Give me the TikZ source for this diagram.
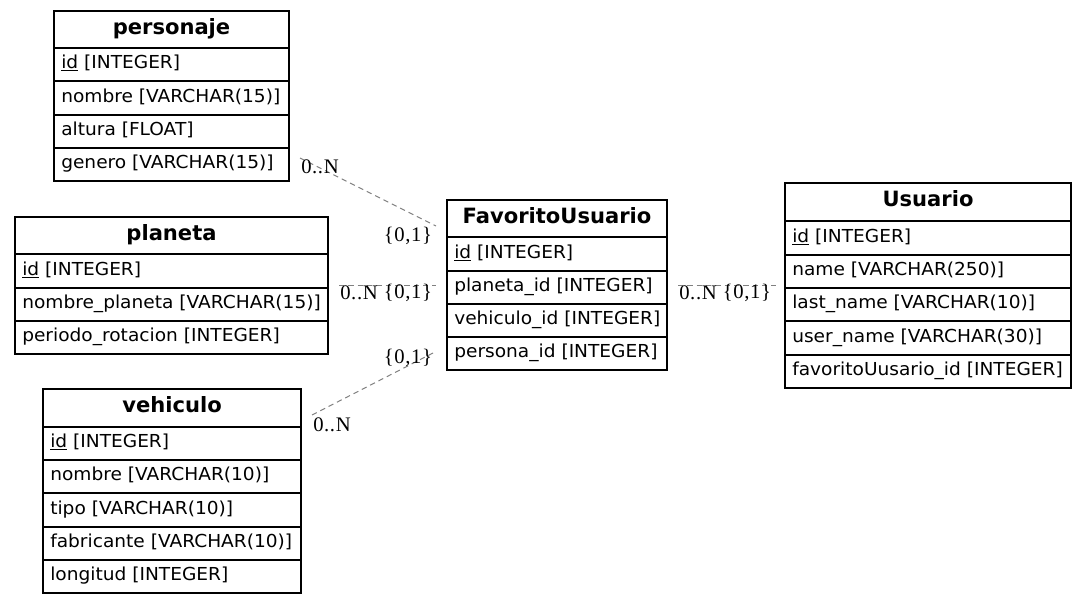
\documentclass[tikz,border=0pt]{standalone}
\usepackage{fontspec}
\usetikzlibrary{fit}
\newfontfamily\bodyfont{DejaVu Sans}[FakeStretch=1.04]
\newfontfamily\titlefont{DejaVu Sans Bold}
\newfontfamily\labelfont{Liberation Serif}[LetterSpace=3]
\tikzset{
  tbl/.style={draw=black, line width=0.9pt, inner sep=0pt},
  rowline/.style={draw=black, line width=0.9pt},
  fld/.style={anchor=base west, inner sep=0pt, font=\bodyfont\fontsize{13.4pt}{15pt}\selectfont},
  ttl/.style={anchor=base, inner sep=0pt, font=\titlefont\fontsize{15.8pt}{17pt}\selectfont},
  card/.style={inner sep=0pt, font=\labelfont\fontsize{15.5pt}{17pt}\selectfont},
  rel/.style={draw=black!50, line width=0.75pt, dash pattern=on 4pt off 3pt},
}
\begin{document}
\begin{tikzpicture}[x=0.75pt,y=-0.75pt]
\useasboundingbox[fill=white] (0,0) rectangle (1087,603);

% ---------- relationship lines (behind everything) ----------
\coordinate (r1a) at (300,158); \coordinate (r1b) at (436,226);
\coordinate (r2a) at (339,285); \coordinate (r2b) at (436,285);
\coordinate (r3a) at (312,415); \coordinate (r3b) at (435,352);
\coordinate (r4a) at (678,285); \coordinate (r4b) at (776,285);
\draw[rel] (r1a) -- (r1b);
\draw[rel] (r2a) -- (r2b);
\draw[rel] (r3a) -- (r3b);
\draw[rel] (r4a) -- (r4b);

% ---------- personaje ----------
\node[tbl, fit={(54,11) (289,181)}] (personaje) {};
\draw[rowline] (54,48) -- (289,48) (54,81) -- (289,81) (54,115) -- (289,115) (54,148) -- (289,148);
\node[ttl] (personaje-t) at (171.5,34) {personaje};
\node[fld] (personaje-1) at (61,68.5) {\underline{id} [INTEGER]};
\node[fld] (personaje-2) at (61,102) {nombre [VARCHAR(15)]};
\node[fld] (personaje-3) at (61,135.5) {altura [FLOAT]};
\node[fld] (personaje-4) at (61,168.5) {genero [VARCHAR(15)]};

% ---------- planeta ----------
\node[tbl, fit={(15,217) (328,354)}] (planeta) {};
\draw[rowline] (15,254) -- (328,254) (15,288) -- (328,288) (15,321) -- (328,321);
\node[ttl] (planeta-t) at (171.5,240) {planeta};
\node[fld] (planeta-1) at (22,275) {\underline{id} [INTEGER]};
\node[fld] (planeta-2) at (22,308.5) {nombre\_planeta [VARCHAR(15)]};
\node[fld] (planeta-3) at (22,341.5) {periodo\_rotacion [INTEGER]};

% ---------- vehiculo ----------
\node[tbl, fit={(43,389) (301,593)}] (vehiculo) {};
\draw[rowline] (43,427) -- (301,427) (43,460) -- (301,460) (43,493) -- (301,493) (43,527) -- (301,527) (43,560) -- (301,560);
\node[ttl] (vehiculo-t) at (172,412.5) {vehiculo};
\node[fld] (vehiculo-1) at (50,447.5) {\underline{id} [INTEGER]};
\node[fld] (vehiculo-2) at (50,480.5) {nombre [VARCHAR(10)]};
\node[fld] (vehiculo-3) at (50,514) {tipo [VARCHAR(10)]};
\node[fld] (vehiculo-4) at (50,547.5) {fabricante [VARCHAR(10)]};
\node[fld] (vehiculo-5) at (50,580.5) {longitud [INTEGER]};

% ---------- FavoritoUsuario ----------
\node[tbl, fit={(447,200) (667,370)}] (fav) {};
\draw[rowline] (447,237) -- (667,237) (447,271) -- (667,271) (447,304) -- (667,304) (447,337) -- (667,337);
\node[ttl] (fav-t) at (557,223) {FavoritoUsuario};
\node[fld] (fav-1) at (454,258) {\underline{id} [INTEGER]};
\node[fld] (fav-2) at (454,291.5) {planeta\_id [INTEGER]};
\node[fld] (fav-3) at (454,324.5) {vehiculo\_id [INTEGER]};
\node[fld] (fav-4) at (454,357.5) {persona\_id [INTEGER]};

% ---------- Usuario ----------
\node[tbl, fit={(785,183) (1071,388)}] (usuario) {};
\draw[rowline] (785,221) -- (1071,221) (785,255) -- (1071,255) (785,288) -- (1071,288) (785,321) -- (1071,321) (785,355) -- (1071,355);
\node[ttl] (usuario-t) at (928,206.5) {Usuario};
\node[fld] (usuario-1) at (792,242) {\underline{id} [INTEGER]};
\node[fld] (usuario-2) at (792,275.5) {name [VARCHAR(250)]};
\node[fld] (usuario-3) at (792,308.5) {last\_name [VARCHAR(10)]};
\node[fld] (usuario-4) at (792,342) {user\_name [VARCHAR(30)]};
\node[fld] (usuario-5) at (792,375.5) {favoritoUusario\_id [INTEGER]};

% ---------- cardinality labels ----------
\node[card] (l1a) at (320,167) {0..N};
\node[card] (l1b) at (408,236) {\{0,1\}};
\node[card] (l2a) at (359,293) {0..N};
\node[card] (l2b) at (408,293) {\{0,1\}};
\node[card] (l3a) at (332,425) {0..N};
\node[card] (l3b) at (408,358) {\{0,1\}};
\node[card] (l4a) at (698,293) {0..N};
\node[card] (l4b) at (747,293) {\{0,1\}};
\end{tikzpicture}
\end{document}
